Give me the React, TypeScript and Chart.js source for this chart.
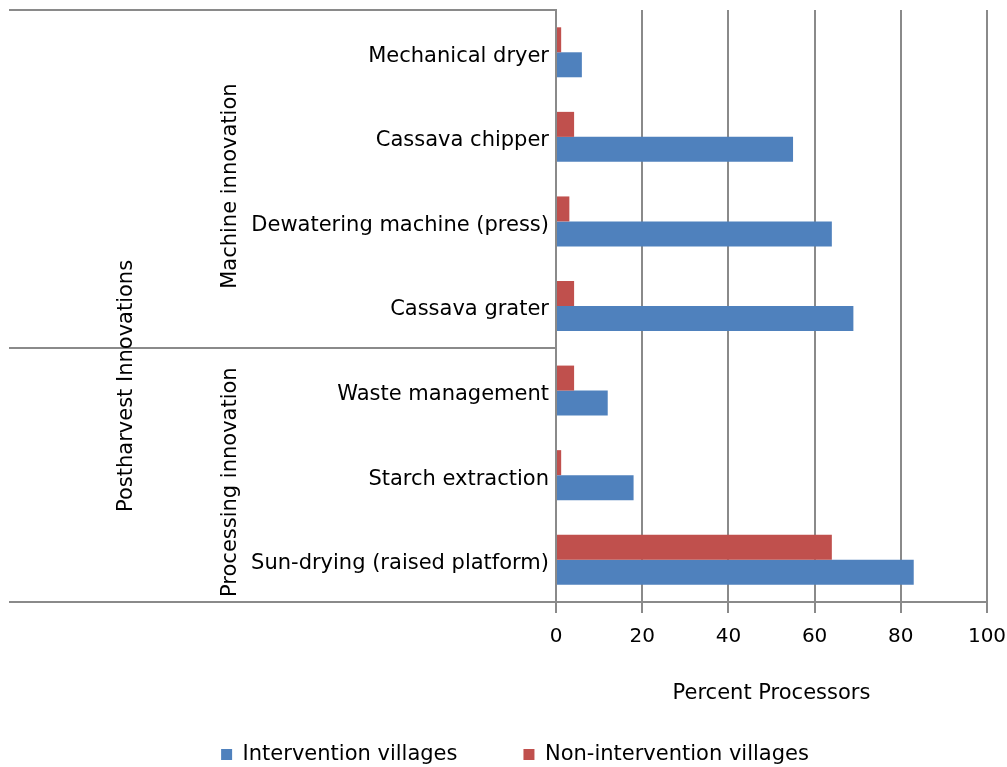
import React, { useEffect, useRef } from "react";
import { Chart, registerables } from "chart.js";

Chart.register(...registerables);

// ---- data ----
const categories = [
  "Mechanical dryer",
  "Cassava chipper",
  "Dewatering machine (press)",
  "Cassava grater",
  "Waste management",
  "Starch extraction",
  "Sun-drying (raised platform)",
];
const interventionValues = [6, 55, 64, 69, 12, 18, 83];
const nonInterventionValues = [1.2, 4.2, 3.1, 4.2, 4.2, 1.2, 64];
const seriesNames = ["Intervention villages", "Non-intervention villages"];
const groupNames = ["Machine innovation", "Processing innovation"];
const groupSizes = [4, 3];
const outerGroupLabel = "Postharvest Innovations";
const xAxisTitle = "Percent Processors";
const xMin = 0;
const xMax = 100;
const xStep = 20;

// ---- styles ----
const BLUE = "#4F81BD";
const RED = "#C0504D";
const LINE = "#8a8a8a";
const FONT = '"DejaVu Sans", Verdana, sans-serif';
const PAD_LEFT = 43;

const multiLevelAxis = {
  id: "multiLevelAxis",
  afterDraw(chart: any) {
    const { ctx, chartArea, scales } = chart;
    const y = scales.y;
    const boundary = (i: number) => {
      if (i <= 0) return chartArea.top;
      if (i >= categories.length) return chartArea.bottom;
      return (y.getPixelForValue(i - 1) + y.getPixelForValue(i)) / 2;
    };
    const edges = [0];
    let acc = 0;
    groupSizes.forEach((s) => {
      acc += s;
      edges.push(acc);
    });
    ctx.save();
    ctx.strokeStyle = LINE;
    ctx.lineWidth = 2;
    edges.forEach((e) => {
      const py = Math.round(boundary(e));
      ctx.beginPath();
      ctx.moveTo(9, py);
      ctx.lineTo(chartArea.left, py);
      ctx.stroke();
    });
    ctx.fillStyle = "#000";
    ctx.font = `21px ${FONT}`;
    ctx.textAlign = "center";
    ctx.textBaseline = "middle";
    groupNames.forEach((name, gi) => {
      const t = boundary(edges[gi]);
      const b = boundary(edges[gi + 1]);
      ctx.save();
      ctx.translate(231, (t + b) / 2 + 7);
      ctx.rotate(-Math.PI / 2);
      ctx.fillText(name, 0, 0);
      ctx.restore();
    });
    ctx.save();
    ctx.translate(127, chartArea.top + (chartArea.bottom - chartArea.top) * 0.635);
    ctx.rotate(-Math.PI / 2);
    ctx.fillText(outerGroupLabel, 0, 0);
    ctx.restore();
    ctx.restore();
  },
};

export default function App() {
  const ref = useRef<HTMLCanvasElement>(null);
  useEffect(() => {
    const chart = new Chart(ref.current as HTMLCanvasElement, {
      type: "bar",
      data: {
        labels: categories,
        datasets: [
          {
            label: seriesNames[1],
            data: nonInterventionValues,
            backgroundColor: RED,
            categoryPercentage: 0.591,
            barPercentage: 1,
          },
          {
            label: seriesNames[0],
            data: interventionValues,
            backgroundColor: BLUE,
            categoryPercentage: 0.591,
            barPercentage: 1,
          },
        ],
      },
      options: {
        indexAxis: "y",
        responsive: false,
        animation: false,
        layout: { padding: { top: 10, left: PAD_LEFT, right: 20, bottom: -8 } },
        plugins: {
          tooltip: { enabled: false },
          legend: {
            position: "bottom",
            labels: {
              sort: (a: any, b: any) => b.datasetIndex - a.datasetIndex,
              boxWidth: 11,
              boxHeight: 11,
              padding: 66,
              color: "#000",
              font: { family: FONT, size: 21 },
            },
          },
        },
        scales: {
          x: {
            min: xMin,
            max: xMax,
            ticks: {
              stepSize: xStep,
              padding: 12,
              color: "#000",
              font: { family: FONT, size: 20 },
            },
            grid: { color: LINE, lineWidth: 2, tickLength: 11, drawTicks: true },
            border: { color: LINE, width: 2 },
            title: {
              display: true,
              text: xAxisTitle,
              color: "#000",
              font: { family: FONT, size: 21 },
              padding: { top: 0, bottom: -28 },
            },
            afterFit: (scale: any) => {
              scale.height = 76;
              scale.paddingLeft = 0;
              scale.paddingRight = 0;
            },
          },
          y: {
            ticks: {
              padding: 7,
              labelOffset: 4,
              color: "#000",
              font: { family: FONT, size: 21 },
            },
            grid: { display: false, drawTicks: false },
            border: { display: true, color: LINE, width: 2 },
            afterFit: (scale: any) => {
              scale.width = 556 - PAD_LEFT;
              scale.paddingTop = 0;
              scale.paddingBottom = 0;
            },
          },
        },
      },
      plugins: [multiLevelAxis],
    });
    return () => chart.destroy();
  }, []);
  return (
    <div style={{ position: "fixed", left: 0, top: 0, width: 1007, height: 767, background: "#fff" }}>
      <canvas ref={ref} width={1007} height={767} />
    </div>
  );
}
